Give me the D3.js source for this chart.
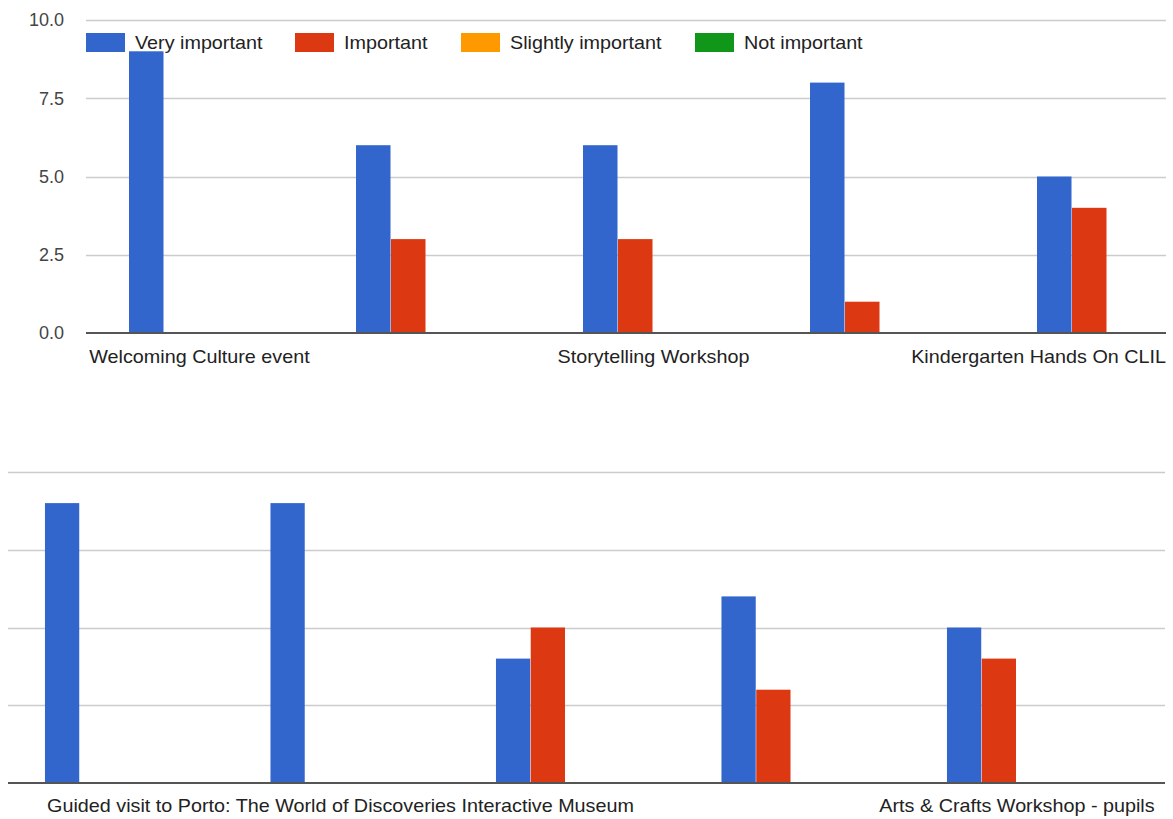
<!DOCTYPE html>
<html>
<head>
<meta charset="utf-8">
<script src="https://cdn.jsdelivr.net/npm/d3@7"></script>
<style>
  html, body { margin: 0; padding: 0; background: #fff; }
  svg { display: block; font-family: "Liberation Sans", Arial, sans-serif; }
</style>
</head>
<body>
<svg id="chart" width="1173" height="819"></svg>
<script>
// ---- Data ----
const seriesNames = ["Very important", "Important", "Slightly important", "Not important"];
const seriesColors = ["#3366cc", "#dc3912", "#ff9900", "#109618"];

const topCategories = ["Welcoming Culture event", "Activity 2", "Storytelling Workshop", "Activity 4", "Kindergarten Hands On CLIL"];
const topLabelShown = [true, false, true, false, true];
const topVeryImportant = [9, 6, 6, 8, 5];
const topImportant = [0, 3, 3, 1, 4];
const topSlightly = [0, 0, 0, 0, 0];
const topNot = [0, 0, 0, 0, 0];

const bottomCategories = ["Activity 6", "Guided visit to Porto: The World of Discoveries Interactive Museum", "Activity 8", "Activity 9", "Arts & Crafts Workshop - pupils"];
const bottomLabelShown = [false, true, false, false, true];
const bottomVeryImportant = [9, 9, 4, 6, 5];
const bottomImportant = [0, 0, 5, 3, 4];
const bottomSlightly = [0, 0, 0, 0, 0];
const bottomNot = [0, 0, 0, 0, 0];

const yTicks = [0, 2.5, 5, 7.5, 10];
const yTickLabels = ["0.0", "2.5", "5.0", "7.5", "10.0"];

// ---- Drawing ----
const svg = d3.select("#chart");
const defs = svg.append("defs");

function drawPanel(opts) {
  const { id, categories, shown, series, plotLeft, plotRight, rangeStart, step, yTop, yBottom, showYLabels, labelY } = opts;
  const n = categories.length;
  const x = d3.scaleBand()
    .domain(categories)
    .range([rangeStart, rangeStart + n * step])
    .paddingInner(87 / 227)
    .paddingOuter(43.5 / 227);
  const y = d3.scaleLinear().domain([0, 10]).range([yBottom, yTop]);
  const xs = d3.scaleBand().domain(seriesNames).range([0, x.bandwidth()]);

  defs.append("clipPath").attr("id", "clip-" + id)
    .append("rect").attr("x", plotLeft).attr("y", yTop - 5)
    .attr("width", plotRight - plotLeft).attr("height", yBottom - yTop + 10);

  const g = svg.append("g");

  // gridlines
  g.append("g").selectAll("line").data(yTicks.filter(t => t !== 0)).join("line")
    .attr("x1", plotLeft).attr("x2", plotRight)
    .attr("y1", d => Math.round(y(d)) + 0.5).attr("y2", d => Math.round(y(d)) + 0.5)
    .attr("stroke", "#cccccc").attr("stroke-width", 1.5);

  // y labels
  if (showYLabels) {
    g.append("g").selectAll("text").data(yTicks).join("text")
      .attr("x", 64).attr("y", d => y(d))
      .attr("dy", "0.35em")
      .attr("text-anchor", "end")
      .attr("font-size", 18)
      .attr("fill", "#444")
      .text((d, i) => yTickLabels[i]);
  }

  // bars
  const bars = g.append("g").attr("clip-path", "url(#clip-" + id + ")");
  categories.forEach((c, ci) => {
    series.forEach((s, si) => {
      const v = s[ci];
      const y0 = y(0), y1 = y(v);
      const h = Math.max(y0 - y1, 1);
      bars.append("rect")
        .attr("x", x(c) + xs(seriesNames[si]) - 0.5)
        .attr("y", y0 - h)
        .attr("width", xs.bandwidth() - 0.5)
        .attr("height", h)
        .attr("fill", seriesColors[si])
        .attr("opacity", v === 0 ? 0.35 : 1);
    });
  });

  // baseline
  g.append("line")
    .attr("x1", plotLeft).attr("x2", plotRight)
    .attr("y1", y(0)).attr("y2", y(0))
    .attr("stroke", "#555").attr("stroke-width", 2);

  // category labels
  categories.forEach((c, ci) => {
    if (!shown[ci]) return;
    const cx = x(c) + x.bandwidth() / 2;
    const t = g.append("text")
      .attr("y", labelY)
      .attr("font-size", 19)
      .attr("fill", "#222")
      .text(c);
    const natural = t.node().getComputedTextLength();
    const w = natural * 1.04;
    t.attr("textLength", w).attr("lengthAdjust", "spacingAndGlyphs");
    let left = cx - w / 2;
    if (left + w > plotRight) left = plotRight - w;
    if (left < plotLeft) left = plotLeft;
    t.attr("x", left);
  });

  return { x, y };
}

drawPanel({
  id: "top",
  categories: topCategories,
  shown: topLabelShown,
  series: [topVeryImportant, topImportant, topSlightly, topNot],
  plotLeft: 86, plotRight: 1166,
  rangeStart: 86, step: 227,
  yTop: 20, yBottom: 333,
  showYLabels: true,
  labelY: 363
});

drawPanel({
  id: "bottom",
  categories: bottomCategories,
  shown: bottomLabelShown,
  series: [bottomVeryImportant, bottomImportant, bottomSlightly, bottomNot],
  plotLeft: 8, plotRight: 1165,
  rangeStart: 2.25, step: 225.5,
  yTop: 472, yBottom: 783,
  showYLabels: false,
  labelY: 812
});

// legend (inside top panel)
const legendX = [86, 295, 461, 695];
const legend = svg.append("g");
seriesNames.forEach((name, i) => {
  legend.append("rect")
    .attr("x", legendX[i]).attr("y", 33)
    .attr("width", 39).attr("height", 19)
    .attr("fill", seriesColors[i]);
  const t = legend.append("text")
    .attr("x", legendX[i] + 49).attr("y", 42)
    .attr("dy", "0.35em")
    .attr("font-size", 19)
    .attr("fill", "#222")
    .text(name);
  const w = t.node().getComputedTextLength() * 1.04;
  t.attr("textLength", w).attr("lengthAdjust", "spacingAndGlyphs");
});
</script>
</body>
</html>
